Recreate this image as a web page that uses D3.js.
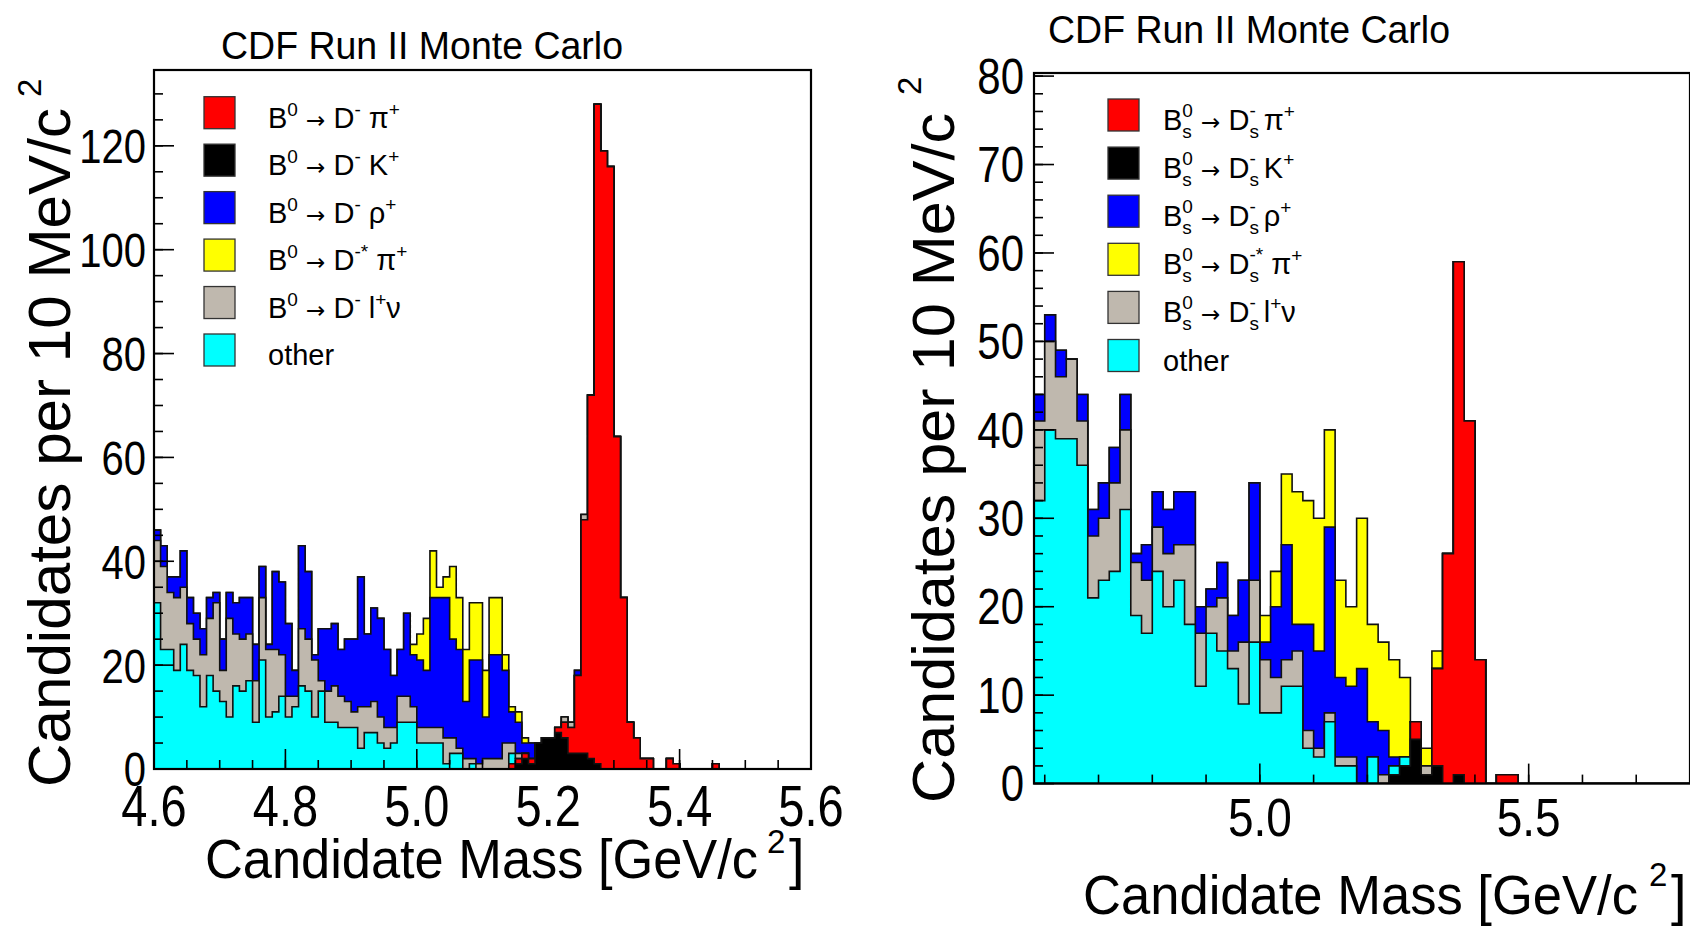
<!DOCTYPE html>
<html><head><meta charset="utf-8">
<script src="https://cdnjs.cloudflare.com/ajax/libs/d3/7.8.5/d3.min.js"></script>
<style>
html,body{margin:0;padding:0;background:#fff;overflow:hidden}
svg{display:block}
text{font-family:"Liberation Sans",Arial,Helvetica,sans-serif;fill:#000}
</style></head>
<body><svg id="c" width="1690" height="931"></svg>
<script>
// ---------------- DATA ----------------
// stacking order bottom -> top
const stackKeys = ["kaon","pion","other","lnu","rho","dstar"];
const seriesColors = {kaon:"#000000",pion:"#ff0000",other:"#00ffff",lnu:"#bfb8ae",rho:"#0000ff",dstar:"#ffff00"};

// Left panel: B0, 10 MeV bins starting at 4.60
const leftBinLow = 4.60, leftBinWidth = 0.01;
const leftOther = [32,23,23,19,24,19,18,12,18,15, 13,10,16,15,17,9,21,10,11,14, 10,12,16,15,10,15,9,9,8,8, 8,4,7,7,5,4,5,9,9,9,
  5,5,5,5,1,3,3,0,1,0, 0,0,0,0,2,0,0,0,0,0, 0,0,0,0,0,0,0,0,0,0, 0,0,0,0,0,0,0,0,0,0, 0,0,0,0,0,0,0,0,0,0, 0,0,0,0,0,0,0,0,0,0];
const leftLnu = [12,16,11,14,11,9,7,10,11,17, 6,19,10,10,9,8,12,13,12,8, 4,2,11,10,11,2,6,7,6,5, 3,8,5,6,5,4,3,5,5,3,
  3,3,3,3,5,3,1,2,1,1, 2,2,2,5,2,1,0,0,0,0, 0,0,1,1,0,1,0,0,0,0, 0,0,0,0,0,0,0,0,0,0, 0,0,0,0,0,0,0,0,0,0, 0,0,0,0,0,0,0,0,0,0];
const leftRho = [2,4,3,4,7,5,5,5,4,2, 6,5,6,8,7,7,6,1,15,14, 14,5,16,13,1,10,12,12,9,12, 14,25,14,18,19,15,10,9,16,10,
  13,11,25,25,27,19,19,11,19,20, 8,20,20,14,6,6,2,3,0,0, 0,0,0,0,1,0,0,0,0,0, 0,0,0,0,0,0,0,0,0,0, 0,0,0,0,0,0,0,0,0,0, 0,0,0,0,0,0,0,0,0,0];
const leftDstar = [0,0,0,0,0,0,0,0,0,0, 0,0,0,0,0,0,0,0,0,0, 0,0,0,0,0,0,0,0,0,0, 0,0,0,0,0,0,0,0,0,2,
  5,10,9,2,4,14,10,10,11,11, 9,11,11,3,1,2,1,0,0,0, 0,0,0,0,0,0,0,0,0,0, 0,0,0,0,0,0,0,0,0,0, 0,0,0,0,0,0,0,0,0,0, 0,0,0,0,0,0,0,0,0,0];
const leftKaon = [0,0,0,0,0,0,0,0,0,0, 0,0,0,0,0,0,0,0,0,0, 0,0,0,0,0,0,0,0,0,0, 0,0,0,0,0,0,0,0,0,0,
  0,0,0,0,0,0,0,0,0,0, 0,0,0,0,0,1,2,1,5,6, 6,7,6,3,3,3,2,1,0,0, 0,0,0,0,0,0,0,0,0,0, 0,0,0,0,0,0,0,0,0,0, 0,0,0,0,0,0,0,0,0,0];
const leftPion = [0,0,0,0,0,0,0,0,0,0, 0,0,0,0,0,0,0,0,0,0, 0,0,0,0,0,0,0,0,0,0, 0,0,0,0,0,0,0,0,0,0,
  0,0,0,0,0,0,0,0,0,0, 0,0,0,0,1,1,1,1,0,0, 0,1,3,5,15,45,70,127,119,116, 64,33,9,6,2,2,0,0,2,1, 0,0,0,0,0,1,0,0,0,0, 0,0,0,0,0,0,0,0,0,0];

// Right panel: Bs, 20 MeV bins starting at 4.58
const rightBinLow = 4.58, rightBinWidth = 0.02;
const rightOther = [32,40,39,39,36,21,23,24,31,19, 17,24,20,23,18,11,17,15,13,9, 16,8,8,11,11,4,3,7,2,2, 0,3,0,1,1,0,0,0,0,0,
  0,0,0,0,0,0,0,0,0,0, 0,0,0,0,0,0,0,0,0,0, 0];
const rightLnu = [9,10,7,9,5,7,7,10,9,6, 6,5,6,4,9,6,3,6,2,7, 7,6,4,3,4,2,1,1,1,1, 0,0,1,0,0,0,1,0,0,0,
  0,0,0,0,0,0,0,0,0,0, 0,0,0,0,0,0,0,0,0,0, 0];
const rightRho = [3,3,3,0,3,3,4,4,4,1, 4,4,5,6,6,3,2,4,4,7, 11,2,8,13,3,12,11,21,9,8, 13,4,5,1,0,0,0,0,0,0,
  0,0,0,0,0,0,0,0,0,0, 0,0,0,0,0,0,0,0,0,0, 0];
const rightDstar = [0,0,0,0,0,0,0,0,0,0, 0,0,0,0,0,0,0,0,0,0, 0,3,4,8,15,14,15,11,11,9, 17,11,10,11,9,0,2,2,0,0,
  0,0,0,0,0,0,0,0,0,0, 0,0,0,0,0,0,0,0,0,0, 0];
const rightKaon = [0,0,0,0,0,0,0,0,0,0, 0,0,0,0,0,0,0,0,0,0, 0,0,0,0,0,0,0,0,0,0, 0,0,0,1,2,5,1,2,0,1,
  0,0,0,0,0,0,0,0,0,0, 0,0,0,0,0,0,0,0,0,0, 0];
const rightPion = [0,0,0,0,0,0,0,0,0,0, 0,0,0,0,0,0,0,0,0,0, 0,0,0,0,0,0,0,0,0,0, 0,0,0,0,0,2,0,11,26,58,
  41,14,0,1,1,0,0,0,0,0, 0,0,0,0,0,0,0,0,0,0, 0];

// axis ticks / labels
const leftXMajor = [4.6,4.8,5.0,5.2,5.4,5.6];
const leftXLabels = ["4.6","4.8","5.0","5.2","5.4","5.6"];
const leftYMajor = [0,20,40,60,80,100,120];
const rightXMajor = [5.0,5.5];
const rightXLabels = ["5.0","5.5"];
const rightYMajor = [0,10,20,30,40,50,60,70,80];

// legend entries (legend order)
const legendKeys = ["pion","kaon","rho","dstar","lnu","other"];
const leftLegendText = [
  [["B"],["0","sup"],[" "],["\u2192","arrow"],[" D"],["-","sup"],[" \u03c0"],["+","sup"]],
  [["B"],["0","sup"],[" "],["\u2192","arrow"],[" D"],["-","sup"],[" K"],["+","sup"]],
  [["B"],["0","sup"],[" "],["\u2192","arrow"],[" D"],["-","sup"],[" \u03c1"],["+","sup"]],
  [["B"],["0","sup"],[" "],["\u2192","arrow"],[" D"],["-*","sup"],[" \u03c0"],["+","sup"]],
  [["B"],["0","sup"],[" "],["\u2192","arrow"],[" D"],["-","sup"],[" l"],["+","sup"],["\u03bd"]],
  [["other"]]
];
const rightLegendText = [
  [["B"],["s","0","subsup"],[" "],["\u2192","arrow"],[" D"],["s","-","subsup"],[" \u03c0"],["+","sup"]],
  [["B"],["s","0","subsup"],[" "],["\u2192","arrow"],[" D"],["s","-","subsup"],[" K"],["+","sup"]],
  [["B"],["s","0","subsup"],[" "],["\u2192","arrow"],[" D"],["s","-","subsup"],[" \u03c1"],["+","sup"]],
  [["B"],["s","0","subsup"],[" "],["\u2192","arrow"],[" D"],["s","-*","subsup"],[" \u03c0"],["+","sup"]],
  [["B"],["s","0","subsup"],[" "],["\u2192","arrow"],[" D"],["s","-","subsup"],[" l"],["+","sup"],["\u03bd"]],
  [["other"]]
];
const titleText = "CDF Run II Monte Carlo";
const yLabelText = "Candidates per 10 MeV/c";
const xLabelText = "Candidate Mass [GeV/c";

// ---------------- DRAW ----------------
const svg = d3.select("#c");
let clipId = 0;

function stretchedText(g, x, y, str, size, sy, anchor) {
  return g.append("text")
    .attr("transform", `translate(${x},${y}) scale(1,${sy})`)
    .attr("text-anchor", anchor).attr("font-size", size).text(str);
}

function legendLabel(g, x, y, segs, size, small) {
  const t = g.append("text").attr("x", x).attr("y", y).attr("font-size", size);
  let shift = 0;
  segs.forEach(s => {
    const type = s.length > 1 ? s[s.length - 1] : "n";
    if (type === "n") {
      t.append("tspan").attr("dy", -shift).text(s[0]);
      shift = 0;
    } else if (type === "arrow") {
      t.append("tspan").attr("dy", -shift).attr("font-family", "DejaVu Sans")
        .attr("font-size", size * 0.8).text(s[0]);
      shift = 0;
    } else if (type === "sup") {
      t.append("tspan").attr("dy", -12 - shift).attr("font-size", small).text(s[0]);
      shift = -12;
    } else if (type === "subsup") {
      const sw = small * 0.5;
      t.append("tspan").attr("dy", 8 - shift).attr("font-size", small).text(s[0]);
      t.append("tspan").attr("dx", -sw).attr("dy", -21).attr("font-size", small).text(s[1]);
      shift = -13;
    }
  });
}

function drawPanel(cfg) {
  const g = svg.append("g");
  const x = d3.scaleLinear().domain(cfg.xDomain).range(cfg.xRange);
  const y = d3.scaleLinear().domain(cfg.yDomain).range(cfg.yRange);
  const n = cfg.series.other.length;
  const rows = d3.range(n).map(i => {
    const r = {lo: cfg.binLow + i * cfg.binWidth};
    stackKeys.forEach(k => r[k] = cfg.series[k][i]);
    return r;
  });
  const stacked = d3.stack().keys(stackKeys)(rows);

  const id = "clip" + (clipId++);
  svg.append("clipPath").attr("id", id).append("rect")
    .attr("x", cfg.xRange[0]).attr("y", cfg.yRange[1])
    .attr("width", cfg.xRange[1] - cfg.xRange[0]).attr("height", cfg.yRange[0] - cfg.yRange[1]);
  const hg = g.append("g").attr("clip-path", `url(#${id})`);

  const area = d3.area().x(d => x(d.x)).y0(y(0)).y1(d => y(d.v));
  for (let i = stacked.length - 1; i >= 0; i--) {
    const pts = [];
    stacked[i].forEach((d, j) => {
      pts.push({x: rows[j].lo, v: d[1]}, {x: rows[j].lo + cfg.binWidth, v: d[1]});
    });
    hg.append("path").attr("d", area(pts))
      .attr("fill", seriesColors[stackKeys[i]])
      .attr("stroke", "#111").attr("stroke-width", 1.6).attr("stroke-linejoin", "miter");
  }

  // ticks
  const tg = g.append("g").attr("stroke", "#000").attr("stroke-width", 1.6);
  cfg.xMinor.forEach(v => tg.append("line").attr("x1", x(v)).attr("x2", x(v)).attr("y1", cfg.yRange[0]).attr("y2", cfg.yRange[0] - 9));
  cfg.xMajor.forEach(v => tg.append("line").attr("x1", x(v)).attr("x2", x(v)).attr("y1", cfg.yRange[0]).attr("y2", cfg.yRange[0] - 20));
  cfg.yMinor.forEach(v => tg.append("line").attr("y1", y(v)).attr("y2", y(v)).attr("x1", cfg.xRange[0]).attr("x2", cfg.xRange[0] + 9));
  cfg.yMajor.forEach(v => tg.append("line").attr("y1", y(v)).attr("y2", y(v)).attr("x1", cfg.xRange[0]).attr("x2", cfg.xRange[0] + 20));

  // frame
  g.append("rect").attr("x", cfg.xRange[0]).attr("y", cfg.yRange[1])
    .attr("width", cfg.xRange[1] - cfg.xRange[0]).attr("height", cfg.yRange[0] - cfg.yRange[1])
    .attr("fill", "none").attr("stroke", "#000").attr("stroke-width", 2.2);

  // tick labels
  cfg.xLabelVals.forEach((v, i) => stretchedText(g, x(v), cfg.xTickBase, cfg.xLabels[i], cfg.xTickSize, cfg.tickSY, "middle"));
  cfg.yMajor.forEach(v => stretchedText(g, cfg.yTickRight, y(v) + 0.716 * cfg.yTickSize * cfg.tickSY / 2, String(v), cfg.yTickSize, cfg.tickSY, "end"));

  // legend
  const ly = d3.scalePoint().domain(legendKeys).range(cfg.legendY);
  legendKeys.forEach((k, i) => {
    g.append("rect").attr("x", cfg.legendX).attr("y", ly(k) - 16).attr("width", 31).attr("height", 32)
      .attr("fill", seriesColors[k]).attr("stroke", "#333").attr("stroke-width", 1.3);
    legendLabel(g, cfg.legendTextX, ly(k) + 15, cfg.legendText[i], 29, 19);
  });

  // title
  g.append("text").attr("x", cfg.titleX).attr("y", cfg.titleY).attr("font-size", 38)
    .attr("textLength", 402).attr("lengthAdjust", "spacingAndGlyphs").text(titleText);

  // y axis label
  g.append("text").attr("transform", `translate(${cfg.yLab.x},${cfg.yLab.y}) rotate(-90)`)
    .attr("font-size", 60).attr("textLength", cfg.yLab.len).attr("lengthAdjust", "spacingAndGlyphs").text(yLabelText);
  g.append("text").attr("transform", `translate(${cfg.yLab.sx},${cfg.yLab.sy}) rotate(-90)`)
    .attr("font-size", 33).text("2");

  // x axis label
  g.append("text").attr("x", cfg.xLab.x).attr("y", cfg.xLab.y).attr("font-size", 56)
    .attr("textLength", cfg.xLab.len).attr("lengthAdjust", "spacingAndGlyphs").text(xLabelText);
  g.append("text").attr("x", cfg.xLab.sx).attr("y", cfg.xLab.sy).attr("font-size", 33).text("2");
  g.append("text").attr("x", cfg.xLab.bx).attr("y", cfg.xLab.y).attr("font-size", 56).text("]");
}

drawPanel({
  series: {kaon: leftKaon, pion: leftPion, other: leftOther, lnu: leftLnu, rho: leftRho, dstar: leftDstar},
  binLow: leftBinLow, binWidth: leftBinWidth,
  xDomain: [4.6, 5.6], xRange: [154, 811],
  yDomain: [0, 134.6], yRange: [769, 70],
  xMajor: leftXMajor, xMinor: d3.range(4.65, 5.6, 0.05),
  yMajor: leftYMajor, yMinor: d3.range(5, 134, 5),
  xLabelVals: leftXMajor, xLabels: leftXLabels, xTickBase: 826, xTickSize: 47, tickSY: 1.22,
  yTickRight: 146, yTickSize: 40,
  legendX: 204, legendTextX: 268, legendY: [112.7, 350], legendText: leftLegendText,
  titleX: 221, titleY: 59,
  yLab: {x: 70, y: 787, len: 679, sx: 41, sy: 97},
  xLab: {x: 205, y: 878, len: 553, sx: 767, sy: 853, bx: 789}
});

drawPanel({
  series: {kaon: rightKaon, pion: rightPion, other: rightOther, lnu: rightLnu, rho: rightRho, dstar: rightDstar},
  binLow: rightBinLow, binWidth: rightBinWidth,
  xDomain: [4.58, 5.80], xRange: [1034, 1690],
  yDomain: [0, 80.35], yRange: [783.6, 73],
  xMajor: rightXMajor, xMinor: d3.range(4.6, 5.79, 0.1),
  yMajor: rightYMajor, yMinor: d3.range(2, 80.1, 2),
  xLabelVals: rightXMajor, xLabels: rightXLabels, xTickBase: 836, xTickSize: 46, tickSY: 1.18,
  yTickRight: 1024, yTickSize: 42,
  legendX: 1108, legendTextX: 1163, legendY: [115, 355.5], legendText: rightLegendText,
  titleX: 1048, titleY: 43,
  yLab: {x: 954, y: 803, len: 690, sx: 921, sy: 95},
  xLab: {x: 1083, y: 914, len: 555, sx: 1649, sy: 886, bx: 1671}
});
</script></body></html>
